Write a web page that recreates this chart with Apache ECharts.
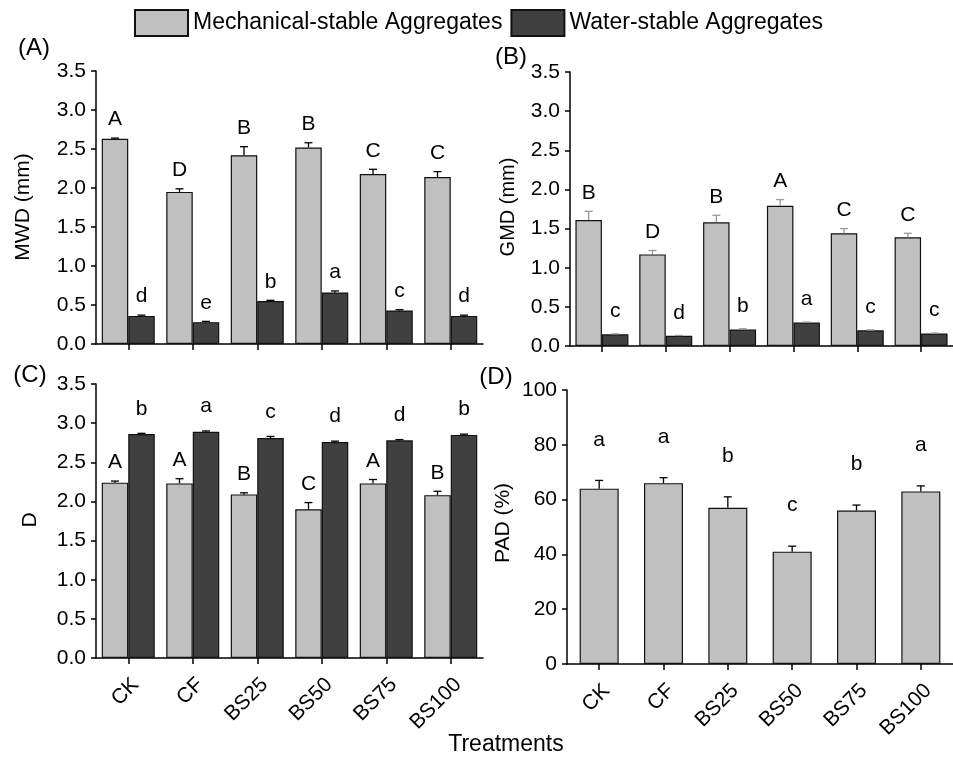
<!DOCTYPE html>
<html><head><meta charset="utf-8">
<script src="https://cdn.jsdelivr.net/npm/echarts@6/dist/echarts.min.js"></script>
<style>html,body{margin:0;padding:0;background:#fff}#c{width:953px;height:758px}</style>
</head><body><div id="c"></div>
<script>
const categories = ['CK','CF','BS25','BS50','BS75','BS100'];
const seriesNames = ['Mechanical-stable Aggregates','Water-stable Aggregates'];
// (A) MWD
const mwdMech = [2.63,1.95,2.42,2.52,2.18,2.14];
const mwdMechErr = [0.01,0.04,0.11,0.06,0.06,0.07];
const mwdMechSig = ['A','D','B','B','C','C'];
const mwdWater = [0.36,0.28,0.55,0.66,0.43,0.36];
const mwdWaterErr = [0.01,0.01,0.01,0.02,0.01,0.01];
const mwdWaterSig = ['d','e','b','a','c','d'];
// (B) GMD
const gmdMech = [1.61,1.17,1.58,1.79,1.44,1.39];
const gmdMechErr = [0.11,0.05,0.09,0.08,0.06,0.05];
const gmdMechSig = ['B','D','B','A','C','C'];
const gmdWater = [0.15,0.13,0.21,0.30,0.20,0.16];
const gmdWaterErr = [0.005,0.005,0.01,0.005,0.005,0.005];
const gmdWaterSig = ['c','d','b','a','c','c'];
// (C) D
const dMech = [2.24,2.23,2.09,1.90,2.23,2.08];
const dMechErr = [0.02,0.06,0.02,0.085,0.05,0.05];
const dMechSig = ['A','A','B','C','A','B'];
const dWater = [2.86,2.89,2.81,2.76,2.78,2.85];
const dWaterErr = [0.01,0.01,0.02,0.01,0.01,0.01];
const dWaterSig = ['b','a','c','d','d','b'];
// (D) PAD
const pad = [64,66,57,41,56,63];
const padErr = [3,2,4,2,2,2];
const padSig = ['a','a','b','c','b','a'];
const yTicks3 = {min:0,max:3.5,interval:0.5};
const yTicksPad = {min:0,max:100,interval:20};

const FONT = 'Liberation Sans, Arial, sans-serif';
const GRAY = '#c0c0c0', DARK = '#404040';
const BW = 26.5;

function grid(l,t,w,h){return {left:l,top:t,width:w,height:h};}
function xAx(i, showLabel){
  return {type:'category', gridIndex:i, data:categories,
    axisLine:{show:true,lineStyle:{color:'#000',width:1.5}},
    axisTick:{show:true,alignWithLabel:true,length:6,lineStyle:{color:'#000',width:1.5}},
    axisLabel:{show:showLabel,rotate:45,fontSize:21,color:'#000',fontFamily:FONT,margin:16,verticalAlign:'top'}};
}
function yAx(i, ticks, fmt){
  return {type:'value', gridIndex:i, min:ticks.min, max:ticks.max, interval:ticks.interval,
    splitLine:{show:false},
    axisLine:{show:true,lineStyle:{color:'#000',width:1.5}},
    axisTick:{show:true,length:5,lineStyle:{color:'#000',width:1.5}},
    axisLabel:{fontSize:21,color:'#000',fontFamily:FONT,margin:10,formatter:fmt}};
}
function bar(i, name, vals, color, w){
  return {type:'bar', name:name, xAxisIndex:i, yAxisIndex:i, data:vals, barWidth:w, barGap:'0%',
    itemStyle:{color:color,borderColor:'#111',borderWidth:1.2}, z:2};
}
function err(i, vals, errs, sigs, offset, gap, color){
  return {type:'custom', xAxisIndex:i, yAxisIndex:i, z:5, silent:true,
    data: categories.map((c,k)=>[c, vals[k], errs[k]]),
    encode:{x:0,y:1},
    renderItem:function(params, api){
      const k = params.dataIndex;
      const v = api.value(1), e = api.value(2);
      const b = api.coord([api.value(0), v]);
      const t = api.coord([api.value(0), v+e]);
      const x = b[0]+offset;
      return {type:'group', children:[
        {type:'line', shape:{x1:x,y1:b[1],x2:x,y2:t[1]}, style:{stroke:color,lineWidth:1.3}},
        {type:'line', shape:{x1:x-4,y1:t[1],x2:x+4,y2:t[1]}, style:{stroke:color,lineWidth:1.3}},
        {type:'text', x:x, y:t[1]-gap, style:{text:sigs[k], align:'center', verticalAlign:'bottom',
          fontSize:21, fontFamily:FONT, fill:'#000'}}
      ]};
    }};
}
const f1 = v=>v.toFixed(1);
const f0 = v=>String(v);
function label(x,y,t,size,rot){
  return {type:'text', x:x, y:y, rotation:rot||0,
    style:{text:t, fontSize:size, fontFamily:FONT, fill:'#000', align:'center', verticalAlign:'middle'}};
}

const option = {
  animation:false,
  backgroundColor:'#fff',
  textStyle:{fontFamily:FONT},
  legend:{data:seriesNames, left:129, top:4, itemWidth:53, itemHeight:26, itemGap:8, icon:'rect',
    textStyle:{fontSize:23,color:'#000',fontFamily:FONT}, selectedMode:false},
  grid:[grid(96,71,387,273), grid(570,72,388,274), grid(96,384,387,274), grid(567,390,390,274)],
  xAxis:[xAx(0,false), xAx(1,false), xAx(2,true), xAx(3,true)],
  yAxis:[yAx(0,yTicks3,f1), yAx(1,yTicks3,f1), yAx(2,yTicks3,f1), yAx(3,yTicksPad,f0)],
  series:[
    bar(0, seriesNames[0], mwdMech, GRAY, BW), bar(0, seriesNames[1], mwdWater, DARK, BW),
    err(0, mwdMech, mwdMechErr, mwdMechSig, -BW/2, 8, '#000'),
    err(0, mwdWater, mwdWaterErr, mwdWaterSig, BW/2, 8, '#000'),
    bar(1, seriesNames[0], gmdMech, GRAY, BW), bar(1, seriesNames[1], gmdWater, DARK, BW),
    err(1, gmdMech, gmdMechErr, gmdMechSig, -BW/2, 8, '#999'),
    err(1, gmdWater, gmdWaterErr, gmdWaterSig, BW/2, 12, '#999'),
    bar(2, seriesNames[0], dMech, GRAY, BW), bar(2, seriesNames[1], dWater, DARK, BW),
    err(2, dMech, dMechErr, dMechSig, -BW/2, 8, '#000'),
    err(2, dWater, dWaterErr, dWaterSig, BW/2, 14, '#000'),
    bar(3, seriesNames[0], pad, GRAY, 39),
    err(3, pad, padErr, padSig, 0, 30, '#000')
  ],
  graphic:[
    label(34,48,'(A)',24), label(511,57,'(B)',24), label(30,375,'(C)',24), label(496,377,'(D)',24),
    label(23,207,'MWD (mm)',21,Math.PI/2), label(508,207,'GMD (mm)',20,Math.PI/2),
    label(30,520,'D',21,Math.PI/2), label(503,523,'PAD (%)',21,Math.PI/2),
    label(506,745,'Treatments',23)
  ]
};
const chart = echarts.init(document.getElementById('c'), null, {renderer:'canvas'});
chart.setOption(option);
</script></body></html>
